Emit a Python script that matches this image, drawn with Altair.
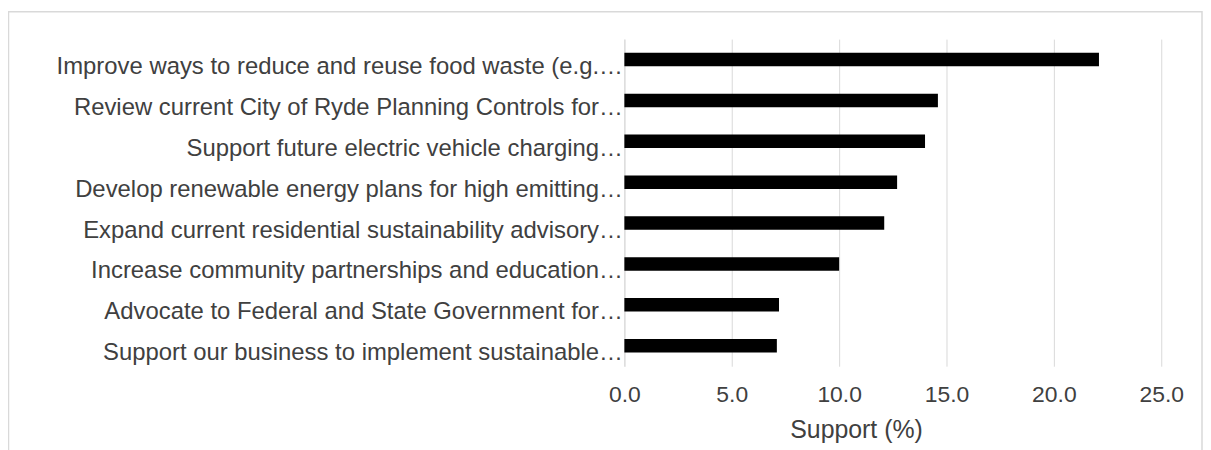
import altair as alt
import pandas as pd

labels = [
    "Improve ways to reduce and reuse food waste (e.g.…",
    "Review current City of Ryde Planning Controls for…",
    "Support future electric vehicle charging…",
    "Develop renewable energy plans for high emitting…",
    "Expand current residential sustainability advisory…",
    "Increase community partnerships and education…",
    "Advocate to Federal and State Government for…",
    "Support our business to implement sustainable…",
]
support = [22.1, 14.6, 14.0, 12.7, 12.1, 10.0, 7.2, 7.1]
tick_values = [0, 5, 10, 15, 20, 25]

df = pd.DataFrame({"measure": labels, "support": support})

FONT = "Liberation Sans"
TEXT = "#404040"
GRID = "#d9d9d9"

bars = alt.Chart(df).mark_bar(color="black").encode(
    x=alt.X(
        "support:Q",
        scale=alt.Scale(domain=[0, 25], nice=False),
        axis=alt.Axis(
            values=tick_values, format=".1f", title="Support (%)",
            domain=False, ticks=False, tickSize=0,
            labelPadding=18, labelFontSize=23, labelColor=TEXT, labelFont=FONT,
            labelFlush=False, labelOverlap=False,
            grid=True, gridColor=GRID, gridWidth=1,
            titleFont=FONT, titleFontSize=25, titleFontWeight="normal", titleColor=TEXT,
            titleX=233, titleY=72, titleAlign="center", titleBaseline="alphabetic",
        ),
    ),
    y=alt.Y(
        "measure:N", sort=labels,
        scale=alt.Scale(paddingInner=0.67, paddingOuter=0.335),
        axis=alt.Axis(
            title=None, ticks=False, tickSize=0,
            domain=True, domainColor=GRID, domainWidth=1,
            labelPadding=2, labelFontSize=24, labelFont=FONT, labelColor=TEXT,
            labelLimit=0, labelOffset=7.5, grid=False,
        ),
    ),
)

frame = alt.Chart(pd.DataFrame({"a": [0]})).mark_rect(
    fill="transparent", stroke=GRID, strokeWidth=1.5
).encode(
    x=alt.value(-619.5), x2=alt.value(581), y=alt.value(-27.5), y2=alt.value(460)
)

chart = alt.layer(frame, bars).properties(
    width=540, height=329,
    padding={"left": 620, "top": 30, "right": 42, "bottom": 83},
    autosize=alt.AutoSizeParams(type="none"),
).configure_view(stroke=None)

chart.save("out.html", embed_options={"renderer": "svg", "actions": False})
